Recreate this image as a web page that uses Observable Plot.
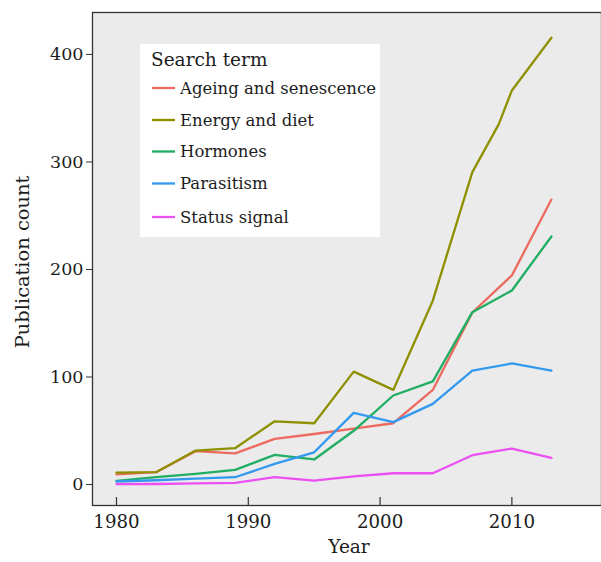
<!DOCTYPE html>
<html><head><meta charset="utf-8">
<script src="https://cdn.jsdelivr.net/npm/d3@7"></script>
<script src="https://cdn.jsdelivr.net/npm/@observablehq/plot@0.6"></script>
<style>
body{margin:0;background:#fff}
#chart{position:relative;width:601px;height:562px}
</style>
</head><body><div id="chart"></div>
<script>
// ---- data ----
const years = [1980, 1983, 1986, 1989, 1992, 1995, 1998, 2001, 2004, 2007, 2010, 2013];
const energyYears = [1980, 1983, 1986, 1989, 1992, 1995, 1998, 2001, 2004, 2007, 2009, 2010, 2013];
const ageing     = [9.5, 11.5, 31, 29, 42.5, 47, 52, 57, 88, 160, 194.5, 265];
const energy     = [11, 11.5, 31.6, 33.8, 58.8, 57, 105, 88, 171, 290.5, 335, 366.5, 415.5];
const hormones   = [3.4, 6.8, 10, 13.6, 27.6, 23.3, 50, 82.8, 96, 160.3, 180.5, 230.7];
const parasitism = [2.8, 4, 5.5, 6.8, 19.2, 30, 66.7, 58, 75, 106, 112.6, 106];
const status     = [0.3, 0.5, 1, 1.5, 6.8, 3.7, 7.5, 10.5, 10.5, 27.3, 33.5, 24.8];

const seriesNames  = ["Ageing and senescence", "Energy and diet", "Hormones", "Parasitism", "Status signal"];
const seriesColors = ["#EC6A5F", "#8E9000", "#1FAE63", "#3399F0", "#EA50F2"];
const xTicks = [1980, 1990, 2000, 2010];
const yTicks = [0, 100, 200, 300, 400];
const legendTitle = "Search term";
const xTitle = "Year";
const yTitle = "Publication count";

// ---- table ----
const seriesValues = [ageing, energy, hormones, parasitism, status];
const seriesYears  = [years, energyYears, years, years, years];
const rows = [];
seriesNames.forEach((name, i) => {
  seriesValues[i].forEach((v, j) => rows.push({series: name, year: seriesYears[i][j], value: v}));
});

const FONT = "DejaVu Serif";
const TXT = "#1c1c1c";
const AX = "#333";

const plot = Plot.plot({
  width: 601, height: 562,
  marginLeft: 92, marginRight: 0, marginTop: 12, marginBottom: 57,
  style: {fontFamily: FONT, fontSize: "17.5px", background: "#fff", color: TXT, overflow: "visible"},
  x: {domain: [1978.18, 2016.8], label: null},
  y: {domain: [-19.5, 439], label: null},
  color: {domain: seriesNames, range: seriesColors},
  marks: [
    Plot.frame({fill: "#EBEBEB"}),
    Plot.line(rows, {x: "year", y: "value", z: "series", stroke: "series", strokeWidth: 2.3}),
    Plot.frame({stroke: AX, strokeWidth: 1.3}),
    Plot.axisY({ticks: yTicks, tickSize: 6, tickPadding: 3, stroke: AX, fill: TXT, label: null}),
    Plot.axisX({ticks: xTicks, tickSize: 0, tickPadding: 10, tickFormat: d => String(d), fill: TXT, fontSize: 18.2, label: null}),
    Plot.ruleX(xTicks, {x: d => d, insetTop: 485, stroke: AX, strokeWidth: 1.2}),
    Plot.text([xTitle], {frameAnchor: "bottom", dy: 47, dx: 2, fontSize: 18.5, fill: TXT})
  ]
});

const svg = d3.select(plot);

// ---- y axis title ----
svg.append("text")
  .attr("transform", "translate(24,262) rotate(-90)")
  .attr("text-anchor", "middle").attr("dominant-baseline", "middle")
  .attr("font-family", FONT).attr("font-size", 19.4).attr("fill", TXT)
  .text(yTitle);

// ---- legend (layout drawn into the same svg) ----
const lg = svg.append("g").attr("font-family", FONT).attr("fill", TXT).attr("text-anchor", "start");
lg.append("rect").attr("x", 140).attr("y", 44).attr("width", 240).attr("height", 193).attr("fill", "#fff");
lg.append("text").attr("x", 151).attr("y", 66).attr("font-size", 18.5).text(legendTitle);
const rowY = [88, 120, 151.5, 183.5, 217];
seriesNames.forEach((name, i) => {
  lg.append("line").attr("x1", 152).attr("x2", 175).attr("y1", rowY[i]).attr("y2", rowY[i])
    .attr("stroke", seriesColors[i]).attr("stroke-width", 2.3);
  lg.append("text").attr("x", 180).attr("y", rowY[i] + 5.6).attr("font-size", 16.5).text(name);
});

document.getElementById("chart").appendChild(plot);
</script>
</body></html>
